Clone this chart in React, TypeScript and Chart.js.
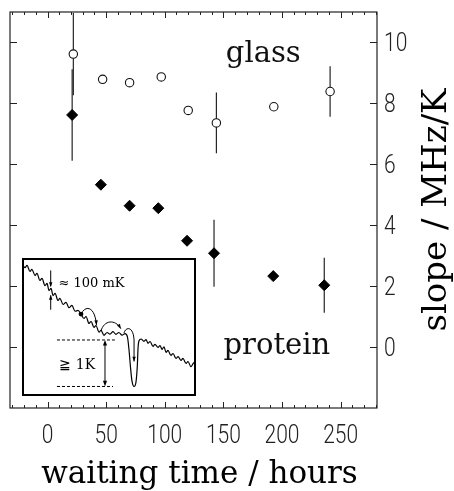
import { useEffect, useRef } from 'react';
import { Chart, registerables } from 'chart.js';

Chart.register(...registerables);

// ---- main chart data ----
const glassHours = [22, 47, 70, 97, 120, 144, 193, 241];
const glassSlope = [9.62, 8.79, 8.68, 8.87, 7.77, 7.36, 7.89, 8.39];
const glassErr = [1.35, 0, 0, 0, 0, 1.0, 0, 0.83];

const proteinHours = [21, 45.5, 70, 94.5, 119, 142, 192.5, 236];
const proteinSlope = [7.62, 5.33, 4.64, 4.56, 3.49, 3.08, 2.33, 2.03];
const proteinErr = [1.5, 0, 0, 0, 0, 1.1, 0, 0.9];

const xTickValues = [0, 50, 100, 150, 200, 250];
const yTickValues = [0, 2, 4, 6, 8, 10];

// ---- inset: energy landscape (arbitrary units 0..100) ----
const insetX = [0.3, 1.7, 2.9, 4.6, 5.7, 7.5, 8.6, 10.3, 11.5, 13.2, 14.4, 15.5, 16.7, 17.8, 19.0, 20.7, 21.8, 23.6, 25.3, 27.0, 28.7, 30.5, 32.2, 33.9, 35.6, 36.8, 38.5, 39.7, 41.4, 42.5, 44.3, 45.4, 47.1, 48.9, 50.6, 52.3, 54.0, 55.7, 57.5, 59.2, 60.6, 61.5, 62.4, 63.2, 64.4, 65.5, 66.3, 66.7, 67.2, 68.4, 70.1, 71.3, 72.4, 73.6, 75.3, 76.4, 78.2, 79.3, 80.5, 81.6, 82.8, 83.9, 85.6, 86.8, 88.5, 89.7, 91.4, 92.5, 94.3, 95.4, 97.1, 98.3, 99.7];
const insetY = [95.7, 93.0, 94.6, 90.2, 91.8, 87.3, 88.9, 83.7, 85.2, 80.0, 81.6, 76.4, 78.0, 72.8, 74.3, 69.2, 70.8, 66.3, 67.9, 64.0, 65.6, 61.4, 62.0, 59.4, 56.2, 57.6, 52.6, 54.0, 49.7, 51.1, 46.2, 47.6, 44.0, 46.0, 44.8, 46.6, 44.7, 46.0, 44.1, 45.2, 42.8, 33.3, 20.3, 10.9, 6.9, 10.1, 22.5, 34.8, 39.9, 41.3, 39.6, 40.9, 38.2, 39.5, 36.0, 37.4, 35.2, 36.6, 33.8, 35.7, 31.6, 33.0, 29.4, 30.8, 27.2, 28.6, 25.8, 27.2, 23.6, 25.0, 21.2, 23.4, 25.4];

const SERIF = '"DejaVu Serif", "Liberation Serif", serif';
const TICKFONT = '300 25px Roboto, "Liberation Sans", sans-serif';

const errorsByDataset = [glassErr, proteinErr];

const errorBarPlugin = {
  id: 'errorBars',
  beforeDatasetsDraw(chart: any) {
    const { ctx, chartArea, scales } = chart;
    const ys = scales.y;
    ctx.save();
    ctx.beginPath();
    ctx.rect(chartArea.left, chartArea.top, chartArea.right - chartArea.left, chartArea.bottom - chartArea.top);
    ctx.clip();
    ctx.strokeStyle = '#111';
    ctx.lineWidth = 1.1;
    chart.data.datasets.forEach((ds: any, di: number) => {
      const meta = chart.getDatasetMeta(di);
      const errs = errorsByDataset[di];
      ds.data.forEach((p: any, i: number) => {
        const e = errs[i];
        if (!e) return;
        const px = meta.data[i].x;
        ctx.beginPath();
        ctx.moveTo(px, ys.getPixelForValue(p.y - e));
        ctx.lineTo(px, ys.getPixelForValue(p.y + e));
        ctx.stroke();
      });
    });
    ctx.restore();
  },
};

const framePlugin = {
  id: 'frameTicks',
  afterDraw(chart: any) {
    const { ctx, chartArea: a, scales } = chart;
    const xs = scales.x;
    const ys = scales.y;
    ctx.save();
    ctx.strokeStyle = '#222';
    ctx.lineWidth = 1.2;
    ctx.strokeRect(a.left, a.top, a.right - a.left, a.bottom - a.top);
    ctx.lineWidth = 1;
    // x ticks (major every 50, minor every 10) on bottom and top, inward
    const start = Math.ceil(xs.min / 10) * 10;
    for (let v = start; v <= xs.max; v += 10) {
      const px = Math.round(xs.getPixelForValue(v)) + 0.5;
      const len = v % 50 === 0 ? 6 : 3;
      ctx.beginPath();
      ctx.moveTo(px, a.bottom);
      ctx.lineTo(px, a.bottom - len);
      ctx.moveTo(px, a.top);
      ctx.lineTo(px, a.top + len);
      ctx.stroke();
    }
    // y ticks on left and right, inward
    yTickValues.forEach((v) => {
      const py = Math.round(ys.getPixelForValue(v)) + 0.5;
      ctx.beginPath();
      ctx.moveTo(a.left, py);
      ctx.lineTo(a.left + 7, py);
      ctx.moveTo(a.right, py);
      ctx.lineTo(a.right - 7, py);
      ctx.stroke();
    });
    // tick labels (narrow sans)
    ctx.fillStyle = '#222';
    ctx.font = TICKFONT;
    ctx.textBaseline = 'alphabetic';
    ctx.textAlign = 'center';
    xs.ticks.forEach((t: any) => {
      ctx.save();
      ctx.translate(xs.getPixelForValue(t.value), a.bottom + 35);
      ctx.scale(0.84, 1);
      ctx.fillText(String(t.value), 0, 0);
      ctx.restore();
    });
    ctx.textAlign = 'left';
    ys.ticks.forEach((t: any) => {
      ctx.save();
      ctx.translate(a.right + 7, ys.getPixelForValue(t.value) + 9);
      ctx.scale(0.84, 1);
      ctx.fillText(String(t.value), 0, 0);
      ctx.restore();
    });
    // in-plot labels
    ctx.fillStyle = '#111';
    ctx.font = `29px ${SERIF}`;
    ctx.textAlign = 'center';
    ctx.textBaseline = 'alphabetic';
    ctx.fillText('glass', xs.getPixelForValue(184), ys.getPixelForValue(9.35));
    ctx.fillText('protein', xs.getPixelForValue(195.6), ys.getPixelForValue(-0.24));
    // x axis title
    ctx.fillStyle = '#000';
    ctx.font = `31px ${SERIF}`;
    ctx.fillText('waiting time / hours', (a.left + a.right) / 2 + 6, 483);
    // right axis title (reads bottom to top)
    ctx.save();
    ctx.translate(446, (a.top + a.bottom) / 2);
    ctx.rotate(-Math.PI / 2);
    ctx.font = `34px ${SERIF}`;
    ctx.textAlign = 'center';
    ctx.textBaseline = 'alphabetic';
    ctx.fillText('slope / MHz/K', 0, 0);
    ctx.restore();
    ctx.restore();
  },
};

function arrowHead(ctx: CanvasRenderingContext2D, x: number, y: number, ang: number, size: number) {
  ctx.beginPath();
  ctx.moveTo(x, y);
  ctx.lineTo(x - size * Math.cos(ang - 0.35), y - size * Math.sin(ang - 0.35));
  ctx.lineTo(x - size * Math.cos(ang + 0.35), y - size * Math.sin(ang + 0.35));
  ctx.closePath();
  ctx.fill();
}

const insetPlugin = {
  id: 'insetDecor',
  afterDraw(chart: any) {
    const { ctx, width, height, scales } = chart;
    const X = (v: number) => scales.x.getPixelForValue(v);
    const Y = (v: number) => scales.y.getPixelForValue(v);
    ctx.save();
    ctx.strokeStyle = '#000';
    ctx.fillStyle = '#000';
    ctx.lineWidth = 1;
    // particle
    ctx.beginPath();
    ctx.arc(X(33.9), Y(59.4), 2.4, 0, Math.PI * 2);
    ctx.fill();
    // hops
    const hop = (p0: number[], c1: number[], c2: number[], p1: number[], tail?: number[]) => {
      ctx.beginPath();
      ctx.moveTo(X(p0[0]), Y(p0[1]));
      ctx.bezierCurveTo(X(c1[0]), Y(c1[1]), X(c2[0]), Y(c2[1]), X(p1[0]), Y(p1[1]));
      let fx = X(c2[0]), fy = Y(c2[1]), ex = X(p1[0]), ey = Y(p1[1]);
      if (tail) {
        ctx.lineTo(X(tail[0]), Y(tail[1]));
        fx = ex; fy = ey; ex = X(tail[0]); ey = Y(tail[1]);
      }
      ctx.stroke();
      arrowHead(ctx, ex, ey, Math.atan2(ey - fy, ex - fx), 5);
    };
    hop([33.9, 59.4], [36.8, 66.5], [42.0, 64.5], [42.8, 51.4]);
    hop([45.4, 47.1], [47.1, 55.0], [53.5, 56.0], [56.8, 48.8]);
    hop([58.6, 45.7], [59.8, 50.5], [64.0, 50.5], [64.4, 40.6], [64.4, 25.0]);
    // ~100 mK arrows
    const ax = X(16.5);
    ctx.beginPath();
    ctx.moveTo(ax, Y(91.0));
    ctx.lineTo(ax, Y(79.5));
    ctx.moveTo(ax, Y(62.5));
    ctx.lineTo(ax, Y(73.0));
    ctx.stroke();
    arrowHead(ctx, ax, Y(79.0), Math.PI / 2, 5);
    arrowHead(ctx, ax, Y(73.2), -Math.PI / 2, 5);
    ctx.font = `13px ${SERIF}`;
    ctx.textAlign = 'left';
    ctx.textBaseline = 'middle';
    ctx.fillText('\u2248 100 mK', X(21.0), Y(81.5));
    // >= 1K scale
    ctx.setLineDash([3, 2]);
    ctx.beginPath();
    ctx.moveTo(X(20.1), Y(40.6));
    ctx.lineTo(X(53.4), Y(40.6));
    ctx.moveTo(X(20.1), Y(6.9));
    ctx.lineTo(X(52.3), Y(6.9));
    ctx.stroke();
    ctx.setLineDash([]);
    const bx = X(47.7);
    ctx.beginPath();
    ctx.moveTo(bx, Y(38.5));
    ctx.lineTo(bx, Y(9.0));
    ctx.stroke();
    arrowHead(ctx, bx, Y(40.6), -Math.PI / 2, 6);
    arrowHead(ctx, bx, Y(6.9), Math.PI / 2, 6);
    ctx.font = `14px ${SERIF}`;
    ctx.textAlign = 'center';
    ctx.fillText('\u2267 1K', X(31.8), Y(22.5));
    // frame
    ctx.lineWidth = 2;
    ctx.strokeRect(1, 1, width - 2, height - 2);
    ctx.restore();
  },
};

export default function App() {
  const mainRef = useRef<HTMLCanvasElement>(null);
  const insetRef = useRef<HTMLCanvasElement>(null);

  useEffect(() => {
    const main = new Chart(mainRef.current as HTMLCanvasElement, {
      type: 'scatter',
      data: {
        datasets: [
          {
            label: 'glass',
            data: glassHours.map((x, i) => ({ x, y: glassSlope[i] })),
            pointStyle: 'circle',
            pointRadius: 4.2,
            pointBackgroundColor: '#fff',
            pointBorderColor: '#111',
            pointBorderWidth: 1.1,
          },
          {
            label: 'protein',
            data: proteinHours.map((x, i) => ({ x, y: proteinSlope[i] })),
            pointStyle: 'rectRot',
            pointRadius: 5.5,
            pointBackgroundColor: '#000',
            pointBorderColor: '#000',
            pointBorderWidth: 1,
          },
        ],
      },
      options: {
        animation: false,
        responsive: false,
        devicePixelRatio: 1,
        layout: { padding: { left: 10, top: 12, right: 0, bottom: 0 } },
        plugins: { legend: { display: false }, tooltip: { enabled: false } },
        scales: {
          x: {
            type: 'linear',
            position: 'bottom',
            min: -32,
            max: 281,
            grid: { display: false, drawTicks: false },
            border: { display: false },
            afterBuildTicks: (s: any) => {
              s.ticks = xTickValues.map((v) => ({ value: v }));
            },
            afterFit: (s: any) => {
              s.height = 83;
            },
            ticks: { display: false },
            title: { display: false },
          },
          y: {
            type: 'linear',
            position: 'right',
            min: -2,
            max: 11,
            grid: { display: false, drawTicks: false },
            border: { display: false },
            afterBuildTicks: (s: any) => {
              s.ticks = yTickValues.map((v) => ({ value: v }));
            },
            afterFit: (s: any) => {
              s.width = 77;
            },
            ticks: { display: false },
          },
        },
      },
      plugins: [errorBarPlugin, framePlugin],
    } as any);

    const inset = new Chart(insetRef.current as HTMLCanvasElement, {
      type: 'line',
      data: {
        datasets: [
          {
            data: insetX.map((x, i) => ({ x, y: insetY[i] })),
            borderColor: '#000',
            borderWidth: 1.2,
            pointRadius: 0,
            fill: false,
            cubicInterpolationMode: 'monotone',
          },
        ],
      },
      options: {
        animation: false,
        responsive: false,
        devicePixelRatio: 1,
        layout: { padding: 0 },
        plugins: { legend: { display: false }, tooltip: { enabled: false } },
        scales: {
          x: { type: 'linear', display: false, min: 0, max: 100 },
          y: { type: 'linear', display: false, min: 0, max: 100 },
        },
      },
      plugins: [insetPlugin],
    } as any);

    return () => {
      main.destroy();
      inset.destroy();
    };
  }, []);

  return (
    <div style={{ position: 'fixed', left: 0, top: 0, width: 454, height: 491, background: '#fff' }}>
      <canvas ref={mainRef} width={454} height={491} style={{ position: 'absolute', left: 0, top: 0, width: 454, height: 491 }} />
      <canvas
        ref={insetRef}
        width={174}
        height={138}
        style={{ position: 'absolute', left: 22, top: 258, width: 174, height: 138, background: '#fff' }}
      />
    </div>
  );
}
